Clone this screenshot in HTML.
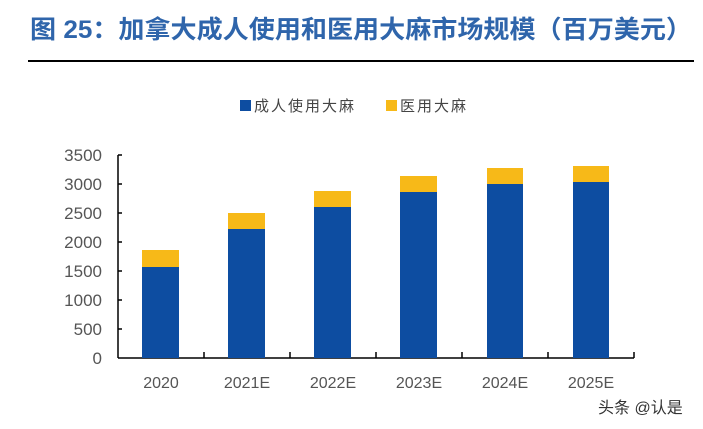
<!DOCTYPE html>
<html><head><meta charset="utf-8"><style>
body{margin:0;background:#fff;}
svg{display:block;}
</style></head><body>
<svg width="703" height="429" xmlns="http://www.w3.org/2000/svg" font-family="'Liberation Sans','Noto Sans CJK SC',sans-serif">
<rect width="703" height="429" fill="#fff"/>
<text x="30" y="38" font-size="25" font-weight="bold" fill="#2F65AB" textLength="662" lengthAdjust="spacingAndGlyphs">图 25：加拿大成人使用和医用大麻市场规模（百万美元）</text>
<line x1="28" y1="61" x2="694" y2="61" stroke="#000" stroke-width="2"/>
<rect x="240" y="100" width="11" height="11" fill="#0D4DA1"/>
<text x="254" y="111" font-size="15" fill="#444" letter-spacing="2">成人使用大麻</text>
<rect x="386" y="100" width="11" height="11" fill="#F7B918"/>
<text x="400" y="111" font-size="15" fill="#444" letter-spacing="2">医用大麻</text>
<g font-size="17" fill="#555" text-anchor="end">
<text x="102" y="161">3500</text><text x="102" y="190">3000</text><text x="102" y="219">2500</text><text x="102" y="248">2000</text><text x="102" y="277">1500</text><text x="102" y="306">1000</text><text x="102" y="335">500</text><text x="102" y="364">0</text>
</g>
<g stroke="#000" stroke-width="1.5">
<line x1="118" y1="155" x2="118" y2="358"/>
<line x1="118" y1="358" x2="634" y2="358"/>
<line x1="118" y1="155" x2="122" y2="155"/><line x1="118" y1="184" x2="122" y2="184"/><line x1="118" y1="213" x2="122" y2="213"/><line x1="118" y1="242" x2="122" y2="242"/><line x1="118" y1="271" x2="122" y2="271"/><line x1="118" y1="300" x2="122" y2="300"/><line x1="118" y1="329" x2="122" y2="329"/>
<line x1="204" y1="352" x2="204" y2="358"/><line x1="290" y1="352" x2="290" y2="358"/><line x1="376" y1="352" x2="376" y2="358"/><line x1="462" y1="352" x2="462" y2="358"/><line x1="548" y1="352" x2="548" y2="358"/><line x1="634" y1="352" x2="634" y2="358"/>
</g>
<g fill="#0D4DA1">
<rect x="142" y="267" width="37" height="91"/>
<rect x="228" y="229" width="37" height="129"/>
<rect x="314" y="207" width="37" height="151"/>
<rect x="400" y="192" width="37" height="166"/>
<rect x="487" y="184" width="36" height="174"/>
<rect x="573" y="182" width="36" height="176"/>
</g>
<g fill="#F7B918">
<rect x="142" y="250" width="37" height="17"/>
<rect x="228" y="213" width="37" height="16"/>
<rect x="314" y="191" width="37" height="16"/>
<rect x="400" y="176" width="37" height="16"/>
<rect x="487" y="168" width="36" height="16"/>
<rect x="573" y="166" width="36" height="16"/>
</g>
<g font-size="16" fill="#555" text-anchor="middle">
<text x="161" y="388">2020</text><text x="247" y="388">2021E</text><text x="333" y="388">2022E</text><text x="419" y="388">2023E</text><text x="505" y="388">2024E</text><text x="591" y="388">2025E</text>
</g>
<text x="598" y="413" font-size="16" fill="#333">头条 @认是</text>
</svg>
</body></html>
